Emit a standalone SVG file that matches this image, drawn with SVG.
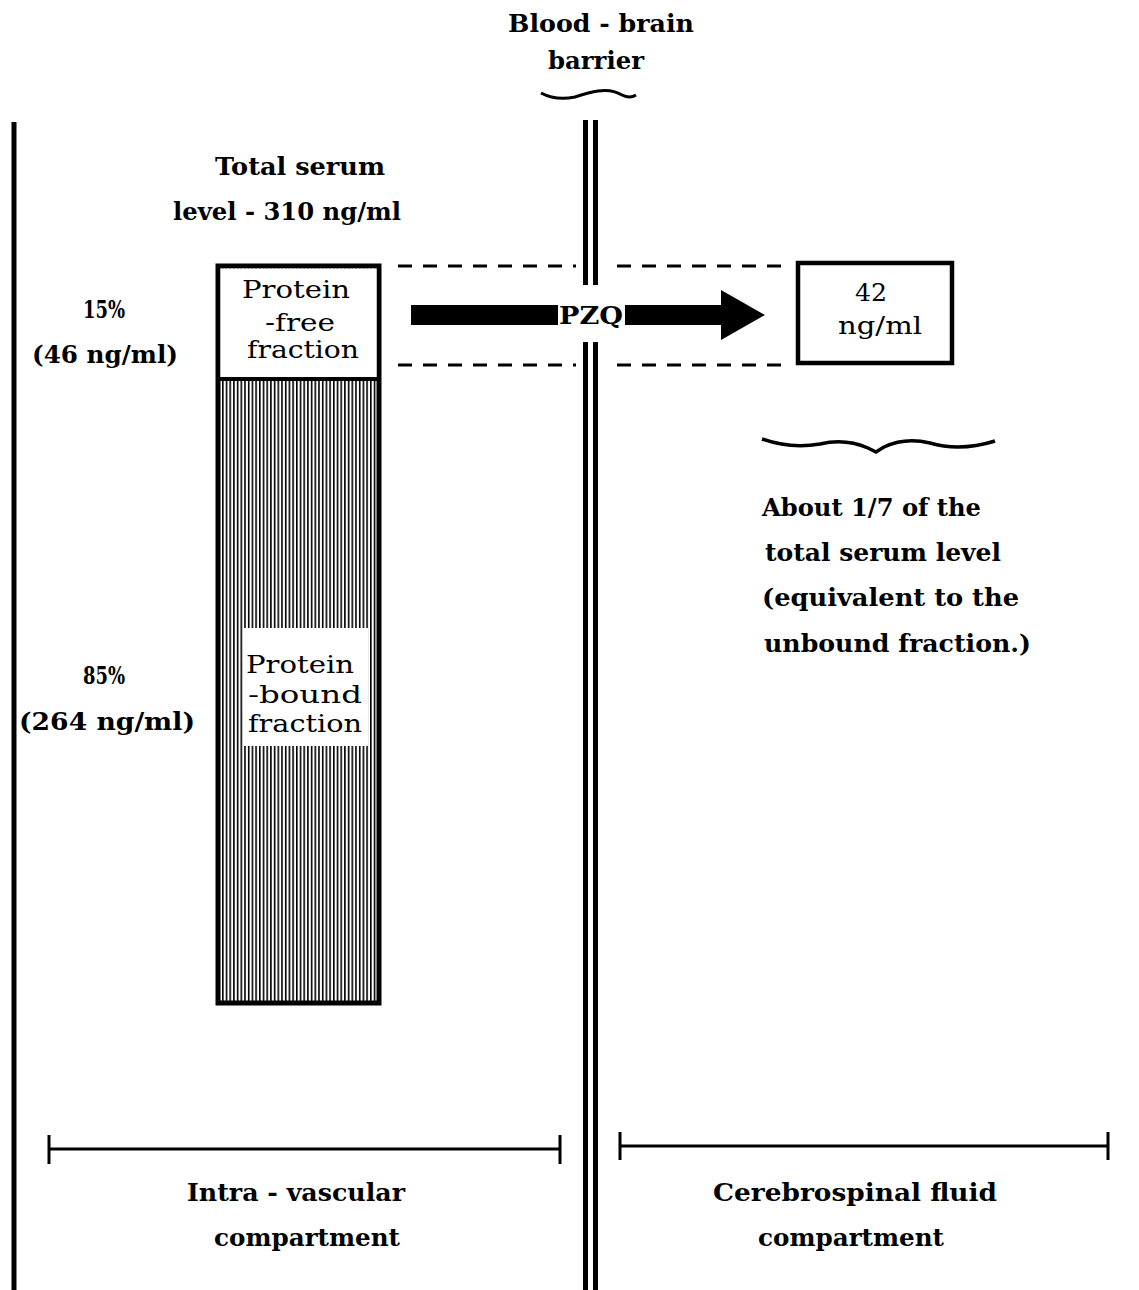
<svg xmlns="http://www.w3.org/2000/svg" width="1139" height="1290" viewBox="0 0 1139 1290">
<style>
.b{font-family:"DejaVu Serif","Liberation Serif",serif;font-weight:bold;font-size:25px;fill:#000}
.r{font-family:"DejaVu Serif","Liberation Serif",serif;font-size:24px;fill:#000}
.ln{stroke:#000;fill:none}
</style>
<defs>
<pattern id="hatch" patternUnits="userSpaceOnUse" width="3.7" height="10">
<rect x="0" y="0" width="3.7" height="10" fill="#fff"/>
<rect x="0" y="0" width="1.6" height="10" fill="#000"/>
</pattern>
</defs>
<rect width="1139" height="1290" fill="#fff"/>
<g id="walls">
<line class="ln" x1="14" y1="122" x2="14" y2="1290" stroke-width="5"/>
<line class="ln" x1="585.5" y1="120" x2="585.5" y2="285" stroke-width="5"/>
<line class="ln" x1="595.5" y1="120" x2="595.5" y2="285" stroke-width="5"/>
<line class="ln" x1="585.5" y1="342" x2="585.5" y2="1290" stroke-width="5"/>
<line class="ln" x1="595.5" y1="342" x2="595.5" y2="1290" stroke-width="5"/>
</g>
<g id="barrier-label">
<text class="b" x="601" y="32" text-anchor="middle" textLength="186" lengthAdjust="spacingAndGlyphs">Blood - brain</text>
<text class="b" x="596" y="69" text-anchor="middle" textLength="96" lengthAdjust="spacingAndGlyphs">barrier</text>
<path class="ln" stroke-width="3" d="M541 93 Q556 101 575 97 Q590 92 598 91 Q612 89 622 95 Q630 99 636 95"/>
</g>
<g id="total-label">
<text class="b" x="300" y="175" text-anchor="middle" textLength="170" lengthAdjust="spacingAndGlyphs">Total serum</text>
<text class="b" x="287" y="220" text-anchor="middle" textLength="228" lengthAdjust="spacingAndGlyphs">level - 310 ng/ml</text>
</g>
<g id="pct-labels">
<text class="b" x="104" y="318" text-anchor="middle" textLength="42" lengthAdjust="spacingAndGlyphs">15%</text>
<text class="b" x="105" y="363" text-anchor="middle" textLength="146" lengthAdjust="spacingAndGlyphs">(46 ng/ml)</text>
<text class="b" x="104" y="684" text-anchor="middle" textLength="42" lengthAdjust="spacingAndGlyphs">85%</text>
<text class="b" x="107" y="730" text-anchor="middle" textLength="176" lengthAdjust="spacingAndGlyphs">(264 ng/ml)</text>
</g>
<g id="serum-column">
<rect x="218" y="266" width="161" height="737" fill="url(#hatch)" stroke="#000" stroke-width="5"/>
<rect x="220.5" y="268.5" width="156" height="110" fill="#fff"/>
<line class="ln" x1="218" y1="379" x2="379" y2="379" stroke-width="4"/>
<rect x="243" y="628" width="125" height="118" fill="#fff"/>
<text class="r" x="296" y="298" text-anchor="middle" textLength="108" lengthAdjust="spacingAndGlyphs">Protein</text>
<text class="r" x="300" y="331" text-anchor="middle" textLength="70" lengthAdjust="spacingAndGlyphs">-free</text>
<text class="r" x="303" y="358" text-anchor="middle" textLength="112" lengthAdjust="spacingAndGlyphs">fraction</text>
<text class="r" x="300" y="673" text-anchor="middle" textLength="108" lengthAdjust="spacingAndGlyphs">Protein</text>
<text class="r" x="305" y="703" text-anchor="middle" textLength="114" lengthAdjust="spacingAndGlyphs">-bound</text>
<text class="r" x="305" y="732" text-anchor="middle" textLength="114" lengthAdjust="spacingAndGlyphs">fraction</text>
</g>
<g id="connectors">
<line class="ln" x1="398" y1="266" x2="576" y2="266" stroke-width="3" stroke-dasharray="14,11"/>
<line class="ln" x1="617" y1="266" x2="782" y2="266" stroke-width="3" stroke-dasharray="14,11"/>
<line class="ln" x1="398" y1="365" x2="576" y2="365" stroke-width="3" stroke-dasharray="14,11"/>
<line class="ln" x1="617" y1="365" x2="782" y2="365" stroke-width="3" stroke-dasharray="14,11"/>
<rect x="411" y="305" width="147" height="20" fill="#000"/>
<path d="M625 305 L721 305 L721 290 L765 315 L721 340 L721 325 L625 325 Z" fill="#000"/>
<text class="b" x="591" y="324" text-anchor="middle" textLength="64" lengthAdjust="spacingAndGlyphs">PZQ</text>
</g>
<g id="csf-box">
<rect x="798" y="263" width="154" height="100" fill="#fff" stroke="#000" stroke-width="4.5"/>
<text class="r" x="871" y="301" text-anchor="middle" textLength="32" lengthAdjust="spacingAndGlyphs">42</text>
<text class="r" x="880" y="334" text-anchor="middle" textLength="84" lengthAdjust="spacingAndGlyphs">ng/ml</text>
</g>
<g id="csf-note">
<path class="ln" stroke-width="3.5" d="M762 439 Q790 449 820 444 Q845 438 868 448 L876 452 L884 447 Q905 437 930 443 Q960 452 995 441"/>
<text class="b" x="762" y="516" textLength="219" lengthAdjust="spacingAndGlyphs">About 1/7 of the</text>
<text class="b" x="765" y="561" textLength="236" lengthAdjust="spacingAndGlyphs">total serum level</text>
<text class="b" x="762" y="606" textLength="257" lengthAdjust="spacingAndGlyphs">(equivalent  to the</text>
<text class="b" x="764" y="652" textLength="267" lengthAdjust="spacingAndGlyphs">unbound fraction.)</text>
</g>
<g id="intra-bracket">
<line class="ln" x1="49" y1="1149" x2="560" y2="1149" stroke-width="3"/>
<line class="ln" x1="49" y1="1135" x2="49" y2="1164" stroke-width="3"/>
<line class="ln" x1="560" y1="1135" x2="560" y2="1164" stroke-width="3"/>
<text class="b" x="296" y="1201" text-anchor="middle" textLength="218" lengthAdjust="spacingAndGlyphs">Intra - vascular</text>
<text class="b" x="307" y="1246" text-anchor="middle" textLength="186" lengthAdjust="spacingAndGlyphs">compartment</text>
</g>
<g id="csf-bracket">
<line class="ln" x1="620" y1="1146" x2="1108" y2="1146" stroke-width="3"/>
<line class="ln" x1="620" y1="1132" x2="620" y2="1160" stroke-width="3"/>
<line class="ln" x1="1108" y1="1132" x2="1108" y2="1160" stroke-width="3"/>
<text class="b" x="855" y="1201" text-anchor="middle" textLength="284" lengthAdjust="spacingAndGlyphs">Cerebrospinal  fluid</text>
<text class="b" x="851" y="1246" text-anchor="middle" textLength="186" lengthAdjust="spacingAndGlyphs">compartment</text>
</g>
</svg>
